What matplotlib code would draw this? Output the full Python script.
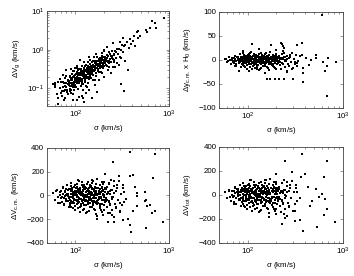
import matplotlib
matplotlib.use("Agg")
from matplotlib import pyplot as plt
from matplotlib.ticker import LogLocator, NullFormatter

#Velocity dispersion of the groups (km/s), shared by all four panels
sigma = [58, 61, 63, 65, 66, 68, 69, 70,
         71, 72, 73, 74, 75, 76, 77, 78, 79, 80, 81,
         72, 74, 76, 78, 80, 82, 83, 84, 85, 79, 77,
         86, 87, 88, 89, 90, 91, 92, 93, 94, 95,
         96, 97, 98, 99, 86, 88, 90, 92, 94, 96,
         98, 87, 89, 91, 93, 95, 97, 99, 100, 85,
         101, 102, 103, 104, 105, 106, 107, 108, 109, 110, 111, 112,
         113, 114, 115, 116, 117, 118, 119, 120, 101, 103, 105, 107,
         109, 111, 113, 115, 117, 119, 102, 104, 106, 108, 110,
         121, 122, 123, 124, 125, 126, 127, 128, 129, 130, 131, 132,
         133, 134, 135, 136, 137, 138, 139, 140, 141, 142, 143, 144,
         122, 124, 126, 128, 130, 132, 134, 136, 138, 140, 142,
         146, 148, 150, 152, 154, 156, 158, 160, 162, 164, 166, 168, 170, 172,
         147, 149, 151, 153, 155, 157, 159, 161, 163, 165, 167, 169, 171, 174,
         176, 179, 182, 185, 188, 191, 194, 197, 200, 203, 207,
         178, 181, 184, 187, 190, 193, 196, 199, 202, 205, 209,
         212, 215, 218, 221, 224, 227, 230, 233, 236, 240, 244, 248, 252, 256, 260, 264,
         268, 274, 280, 286, 292, 298, 305, 312, 320, 330,
         #dense middle of the sample
         84, 88, 92, 96, 100, 104, 108, 112, 116, 120,
         86, 90, 94, 98, 102, 106, 110, 114, 118, 122,
         124, 128, 132, 136, 140, 144, 148, 152, 156, 160,
         126, 130, 134, 138, 142, 146, 150, 154, 158, 162,
         165, 170, 175, 180, 185, 190, 195, 200, 205, 210,
         168, 173, 178, 183, 188, 193, 198, 203, 208, 214,
         100, 105, 110, 115, 120, 125, 130, 135, 140, 145,
         103, 107, 111, 117, 123, 127, 133, 137, 143, 147,
         218, 225, 232, 240, 248, 90, 95, 152, 157, 163,
         220, 228, 236, 245, 255, 83, 91, 97, 186, 196]

#Gravitational redshift term (km/s)
dv_g = [0.13, 0.12, 0.07, 0.15, 0.055, 0.10, 0.17, 0.075,
        0.143, 0.062, 0.107, 0.22, 0.083, 0.136, 0.058, 0.19, 0.108, 0.135, 0.081,
        0.088, 0.142, 0.051, 0.118, 0.21, 0.089, 0.163, 0.073, 0.127, 0.29, 0.093,
        0.137, 0.083, 0.21, 0.115, 0.32, 0.075, 0.18, 0.139, 0.28, 0.111,
        0.21, 0.09, 0.167, 0.34, 0.158, 0.099, 0.14, 0.24, 0.071, 0.138,
        0.125, 0.195, 0.089, 0.164, 0.123, 0.199, 0.28, 0.11, 0.18, 0.121,
        0.175, 0.106, 0.26, 0.146, 0.39, 0.094, 0.229, 0.174, 0.32, 0.139, 0.22, 0.53,
        0.176, 0.273, 0.117, 0.216, 0.39, 0.144, 0.258, 0.091, 0.236, 0.135, 0.176, 0.296,
        0.137, 0.241, 0.186, 0.32, 0.131, 0.235, 0.142, 0.346, 0.094, 0.241, 0.189,
        0.23, 0.128, 0.33, 0.19, 0.48, 0.159, 0.296, 0.225, 0.405, 0.115, 0.285, 0.197,
        0.345, 0.188, 0.271, 0.48, 0.235, 0.14, 0.325, 0.66, 0.173, 0.307, 0.236, 0.432,
        0.21, 0.298, 0.146, 0.375, 0.192, 0.288, 0.107, 0.26, 0.378, 0.20, 0.555,
        0.306, 0.187, 0.477, 0.26, 0.397, 0.169, 0.654, 0.316, 0.483, 0.255, 0.408, 0.208, 0.655, 0.333,
        0.386, 0.236, 0.306, 0.525, 0.218, 0.358, 0.278, 0.497, 0.162, 0.423, 0.79, 0.344, 0.506, 0.28,
        0.406, 0.271, 0.62, 0.372, 0.539, 0.253, 0.80, 0.434, 0.642, 0.38, 0.572,
        0.558, 0.339, 0.457, 0.267, 0.684, 0.444, 0.55, 0.343, 0.904, 0.513, 0.448,
        0.539, 0.385, 0.73, 0.488, 0.674, 0.359, 0.885, 0.56, 0.762, 0.489, 0.70, 0.923, 0.56, 0.79, 0.478, 0.94,
        0.85, 0.60, 1.07, 0.764, 1.05, 0.633, 0.984, 1.36, 0.857, 1.21,
        0.158, 0.114, 0.16, 0.113, 0.224, 0.164, 0.222, 0.153, 0.216, 0.284,
        0.123, 0.176, 0.126, 0.184, 0.168, 0.244, 0.169, 0.22, 0.155, 0.268,
        0.238, 0.2, 0.314, 0.247, 0.316, 0.224, 0.39, 0.309, 0.355, 0.298,
        0.281, 0.218, 0.268, 0.364, 0.204, 0.337, 0.286, 0.397, 0.275, 0.376,
        0.331, 0.424, 0.322, 0.504, 0.438, 0.388, 0.545, 0.469, 0.638, 0.398,
        0.454, 0.376, 0.434, 0.345, 0.494, 0.607, 0.413, 0.506, 0.472, 0.628,
        0.146, 0.194, 0.149, 0.256, 0.216, 0.265, 0.205, 0.352, 0.287, 0.272,
        0.198, 0.172, 0.251, 0.174, 0.248, 0.173, 0.305, 0.263, 0.354, 0.263,
        0.506, 0.679, 0.494, 0.685, 0.65, 0.176, 0.127, 0.358, 0.307, 0.451,
        0.627, 0.512, 0.762, 0.605, 0.751, 0.13, 0.171, 0.148, 0.353, 0.526]

#Centre of mass offset times H0 (km/s)
dy_cm = [2, -4, 6, -1, -8, 3, 0, -5,
         4, -7, 1, 9, -3, -12, 5, -1, 7, -6, 2,
         -2, 8, -9, 3, -4, 12, -1, 6, -14, 0, 5,
         -3, 7, -10, 2, -6, 11, -1, 4, -15, 1,
         9, -5, 0, -11, 6, -2, 14, -7, 3, -4,
         5, -8, 2, -13, 8, -1, 4, -18, 10, -3,
         -5, 3, -9, 12, 0, -14, 6, -2, 17, -7, 1, -20,
         8, -4, 2, -11, 13, -6, 0, -16, 5, -1, 9, -8,
         -3, 6, -12, 1, 10, -5, 3, -9, 15, -2, 7,
         2, -8, 11, -3, -15, 6, -1, 9, -11, 4, -22, 0,
         -6, 5, -2, 14, -9, 1, -17, 7, -4, 10, -13, 3,
         6, -10, 0, 8, -5, 12, -19, 2, -7, 4, -1,
         -4, 9, -12, 2, -7, 15, -1, 5, -16, 7, -3, 11, -9, 1,
         3, -6, 13, -10, 0, 6, -14, 9, -2, -21, 4, -8, 17, -5,
         -7, 4, -12, 10, -2, 7, -17, 1, 13, -9, 3,
         5, -10, 2, -15, 8, -4, 11, -20, 0, 6, -6,
         -3, 8, -11, 3, -18, 12, -6, 1, -9, 15, -14, 5, -2, -24, 9, -8,
         4, -12, 7, -4, 14, -16, 2, -9, 10, -6,
         1, -3, 5, -6, 2, -1, 4, -4, 0, 3,
         -2, 4, -5, 1, 6, -3, 2, -7, 3, -1,
         5, -2, 0, -5, 3, 7, -4, 1, -6, 2,
         -4, 6, -1, 3, -7, 0, 5, -2, 4, -5,
         2, -5, 6, -1, -8, 4, 0, -3, 7, -4,
         -6, 1, -3, 5, 2, -7, 3, -1, -4, 6,
         3, -1, -6, 2, 7, -4, 0, 5, -3, 1,
         -5, 2, 4, -3, 0, 6, -2, -6, 1, 3,
         -4, 2, -8, 5, -1, 3, -2, 6, -5, 0,
         1, -6, 4, -3, 2, -5, 5, 0, -2, 4]

#Centre of mass velocity term (km/s)
dv_cm = [20, -35, 45, -10, -60, 30, 5, -25,
         35, -55, 10, 70, -20, -80, 40, -5, 55, -45, 15,
         -15, 60, -70, 25, -30, 90, -5, 45, -95, 0, 30,
         -25, 55, -85, 15, -45, 80, -10, 35, -110, 5,
         75, -40, 0, -90, 50, -15, 105, -60, 20, -30,
         40, -65, 10, -100, 65, -5, 30, -125, 85, -20,
         -40, 25, -75, 95, 0, -110, 50, -15, 125, -55, 10, -140,
         60, -30, 15, -90, 110, -50, 5, -120, 40, -10, 75, -65,
         -20, 50, -95, 10, 85, -45, 20, -70, 130, -15, 55,
         15, -65, 90, -25, -115, 50, -5, 75, -85, 30, -150, 0,
         -50, 40, -15, 115, -75, 10, -130, 60, -35, 85, -100, 20,
         45, -80, 0, 70, -40, 100, -140, 15, -60, 35, -10,
         -30, 80, -100, 20, -55, 125, -10, 40, -120, 60, -25, 95, -75, 5,
         25, -50, 105, -85, 0, 50, -115, 75, -20, -160, 35, -65, 140, -40,
         -60, 30, -105, 85, -15, 60, -140, 10, 110, -80, 25,
         40, -90, 15, -125, 70, -35, 95, -165, 0, 50, -55,
         -25, 70, -95, 25, -150, 105, -50, 10, -80, 130, -120, 45, -15, -185, 80, -70,
         35, -110, 60, -35, 120, -140, 15, -80, 90, -55,
         15, -40, 55, -60, 25, -10, 45, -30, 0, 35,
         -20, 40, -55, 10, 65, -35, 20, -70, 30, -5,
         50, -15, 5, -50, 30, 70, -40, 10, -60, 20,
         -45, 60, -5, 35, -65, 0, 50, -25, 40, -55,
         20, -50, 60, -10, -75, 40, 5, -35, 65, -45,
         -60, 10, -30, 50, 25, -70, 35, -10, -40, 55,
         30, -5, -55, 20, 70, -40, 0, 50, -30, 15,
         -50, 25, 40, -35, 5, 60, -15, -60, 10, 30,
         -40, 20, -75, 45, -10, 35, -25, 60, -50, 0,
         10, -55, 40, -30, 20, -45, 50, 5, -20, 45]

#Total velocity offset (km/s)
dv_tot = [25, -30, 40, -15, -55, 35, 0, -20,
          30, -60, 15, 65, -25, -75, 45, -10, 50, -40, 20,
          -10, 55, -75, 30, -35, 85, 0, 40, -90, 5, 25,
          -30, 60, -80, 10, -50, 75, -5, 40, -105, 0,
          70, -45, 5, -85, 45, -20, 100, -55, 25, -35,
          45, -60, 5, -95, 60, -10, 35, -120, 80, -25,
          -35, 30, -70, 90, 5, -105, 45, -20, 120, -50, 15, -135,
          55, -25, 20, -85, 105, -55, 0, -115, 45, -5, 70, -60,
          -25, 45, -90, 15, 80, -40, 25, -65, 125, -20, 50,
          20, -60, 85, -30, -110, 45, 0, 70, -80, 35, -145, 5,
          -45, 35, -20, 110, -70, 15, -125, 55, -30, 80, -95, 25,
          40, -75, 5, 65, -45, 95, -135, 20, -55, 30, -15,
          -25, 75, -95, 25, -60, 120, -5, 35, -115, 55, -30, 90, -70, 10,
          30, -45, 100, -80, 5, 45, -110, 70, -25, -155, 40, -60, 135, -35,
          -55, 35, -100, 80, -20, 55, -135, 15, 105, -75, 30,
          35, -85, 20, -120, 65, -40, 90, -160, 5, 45, -50,
          -20, 65, -90, 30, -145, 100, -45, 15, -75, 125, -115, 40, -10, -180, 75, -65,
          30, -105, 55, -30, 115, -135, 20, -75, 85, -50,
          20, -35, 50, -55, 30, -15, 40, -25, 5, 30,
          -25, 45, -50, 15, 60, -30, 25, -65, 35, -10,
          45, -20, 10, -45, 25, 65, -35, 15, -55, 25,
          -40, 55, 0, 40, -60, 5, 45, -20, 35, -50,
          25, -45, 55, -15, -70, 35, 10, -30, 60, -40,
          -55, 15, -25, 45, 30, -65, 30, -15, -35, 50,
          25, 0, -50, 25, 65, -35, 5, 45, -25, 20,
          -45, 30, 35, -30, 10, 55, -10, -55, 15, 25,
          -35, 25, -70, 40, -5, 30, -20, 55, -45, 5,
          15, -50, 35, -25, 25, -40, 45, 10, -15, 40]

#Sparse points outside the main cloud, one pair of lists per panel
g_sig = [340, 355, 370, 380, 395, 410, 420, 430, 450, 463, 470, 490, 567, 575, 631, 663, 708,
         726, 883, 368, 305, 326, 66, 60, 60, 265, 280, 240, 225, 200, 180, 160, 140, 130, 110,
         95, 120, 250, 220, 200, 300, 320, 230, 260, 290, 310, 340, 250, 105, 118, 125, 150, 170]
g_val = [1.3, 1.6, 1.1, 1.9, 1.4, 1.7, 2.2, 1.25, 2.8, 1.97, 3.0, 2.3, 3.2, 2.9, 3.7, 5.6, 4.8,
         3.6, 6.5, 0.29, 0.132, 0.086, 0.039, 0.14, 0.109, 0.36, 0.45, 0.25, 0.3, 0.2, 0.16, 0.12,
         0.09, 0.075, 0.06, 0.05, 0.055, 1.5, 1.2, 1.0, 1.6, 2.0, 0.45, 0.55, 0.4, 0.6, 0.5, 0.35,
         0.05, 0.065, 0.045, 0.055, 0.08]

y_sig = [600, 680, 111, 223, 228, 233, 238, 235, 332, 369, 177, 160, 173, 192, 212, 239, 301,
         380, 519, 525, 620, 646, 843, 690, 683, 441, 459, 375, 384, 380, 406, 59, 62, 68, 74,
         80, 102, 125, 294, 332, 90, 130, 150, 200, 260, 280, 310, 340, 350]
y_val = [94, -76, 34, 36, 33, 28, 25, 18, 32, 35, 30, -40, -40, -40, -40, -40, -40,
         -45, 11, 4, -4, -23, -5, 4, -12, -10, -1, 11, -17, -27, 4, 1, -3, 4, -13,
         -23, -24, -20, -20, -13, 18, 22, -28, 20, -25, 10, -5, -2, 8]

cm_sig = [385, 700, 250, 380, 295, 680, 208, 415, 430, 459, 453, 555, 568, 547, 627, 578, 459,
          708, 653, 869, 564, 393, 378, 368, 325, 255, 225, 172, 172, 235, 245, 300, 416, 60, 62,
          69, 150, 170, 190, 260, 230, 280, 320, 350, 300, 330, 270, 200]
cm_val = [365, 350, 285, 165, 160, 150, 180, 175, 75, 21, -7, 27, -35, -49, -77, -91, -91,
          -128, -147, -226, -274, -305, -246, -200, -210, -220, -225, -170, -198, -147, -162, -133,
          -133, -35, 35, -63, 130, 140, 110, 120, 100, 90, 60, -30, -60, 30, -100, -120]

tot_sig = [375, 247, 675, 198, 293, 399, 637, 362, 432, 516, 607, 647, 675, 631, 824, 538, 380,
           355, 314, 226, 168, 168, 240, 247, 448, 478, 562, 314, 60, 63, 71, 150, 170, 190,
           260, 230, 280, 320, 350, 330, 270, 200]
tot_val = [340, 280, 280, 175, 190, 170, 147, 147, 69, 49, 7, -35, -120, -167, -226, -265, -299,
           -209, -217, -240, -181, -155, -162, -190, -91, -49, -21, -133, -29, 35, -77, 125, 135,
           105, 110, 95, 85, 55, -30, 25, -95, -115]

#Global style, Matlab-like
plt.rcParams.update({"font.family": "Liberation Sans", "font.size": 5.7,
                     "mathtext.fontset": "custom", "mathtext.rm": "Liberation Sans",
                     "mathtext.it": "Liberation Sans:italic", "mathtext.default": "regular",
                     "axes.linewidth": 0.6, "axes.edgecolor": "#444444"})

fig = plt.figure(figsize=(3.54, 2.76), dpi=100)

#Panel positions (left, bottom, width, height)
ax_tl = fig.add_axes([0.133, 0.616, 0.345, 0.344])
ax_tr = fig.add_axes([0.619, 0.609, 0.350, 0.348])
ax_bl = fig.add_axes([0.133, 0.120, 0.345, 0.344])
ax_br = fig.add_axes([0.619, 0.120, 0.350, 0.348])

panels = [(ax_tl, dv_g, g_sig, g_val, r"$\Delta V_g$ (km/s)"),
          (ax_tr, dy_cm, y_sig, y_val, r"$\Delta y_{c.m.}$ x H$_0$ (km/s)"),
          (ax_bl, dv_cm, cm_sig, cm_val, r"$\Delta V_{c.m.}$ (km/s)"),
          (ax_br, dv_tot, tot_sig, tot_val, r"$\Delta V_{tot}$ (km/s)")]

for ax, core, xs, ys, lab in panels:
    ax.plot(sigma, core, "s", color="k", ms=2.0, mew=0)
    ax.plot(xs, ys, "s", color="k", ms=1.7, mew=0)
    ax.set_xscale("log")
    ax.set_xlim(50, 1000)
    ax.xaxis.set_major_locator(LogLocator(base=10))
    ax.xaxis.set_minor_locator(LogLocator(base=10, subs=range(2, 10)))
    ax.xaxis.set_minor_formatter(NullFormatter())
    ax.set_xlabel(r"$\sigma$ (km/s)", labelpad=2)
    ax.set_ylabel(lab, labelpad=4)
    ax.tick_params(which="both", direction="in", top=True, right=True, width=0.4,
                   color="#444444", pad=2)
    ax.tick_params(which="major", length=2.2)
    ax.tick_params(which="minor", length=1.2)

#Axis specific limits and ticks
ax_tl.set_yscale("log")
ax_tl.set_ylim(0.035, 10)
ax_tl.yaxis.set_major_locator(LogLocator(base=10))
ax_tl.yaxis.set_minor_locator(LogLocator(base=10, subs=range(2, 10)))
ax_tl.yaxis.set_minor_formatter(NullFormatter())

ax_tr.set_ylim(-100, 100)
ax_tr.set_yticks([-100, -50, 0, 50, 100])

for ax in (ax_bl, ax_br):
    ax.set_ylim(-400, 400)
    ax.set_yticks([-400, -200, 0, 200, 400])

fig.savefig("out.png", dpi=100)
